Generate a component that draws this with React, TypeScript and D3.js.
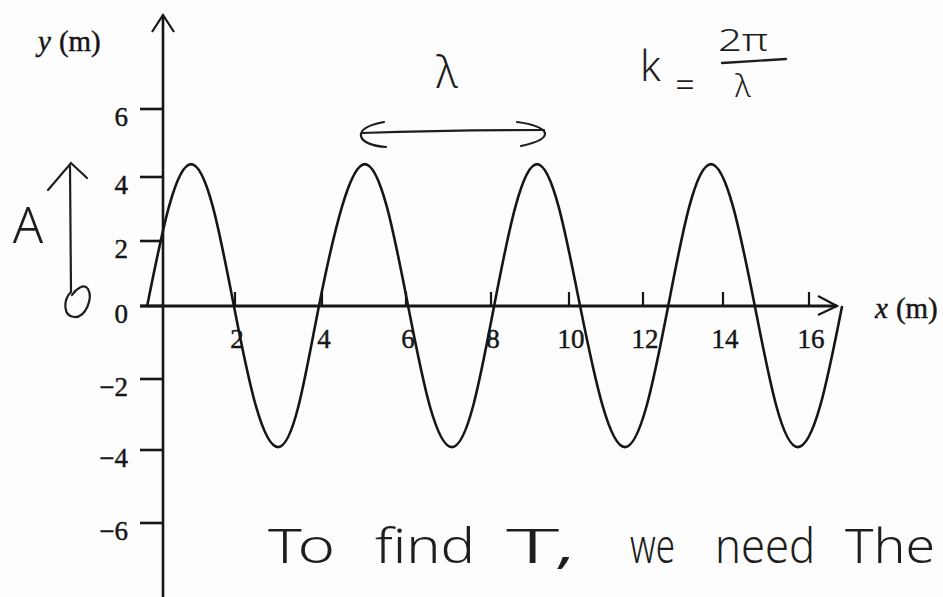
import React, { useEffect } from "react";
import * as d3 from "d3";

// Axis ticks
const yTicks = [6, 4, 2, 0, -2, -4, -6];
const xTicks = [2, 4, 6, 8, 10, 12, 14, 16];

// Transverse displacement y (m) sampled along the string x (m)
const waveX = [
  -0.44, 0.17, 0.78, 1.38, 1.97, 2.48, 2.99, 3.46, 3.93, 4.48, 5.02, 5.54,
  6.05, 6.56, 7.08, 7.58, 8.08, 8.63, 9.18, 9.73, 10.3, 10.91, 11.51, 12.09,
  12.63, 13.16, 13.7, 14.23, 14.74, 15.24, 15.74, 16.26, 16.77,
];
const waveY = [
  0, 3.09, 4.38, 3.09, 0, -2.76, -3.92, -2.76,
  0, 3.09, 4.38, 3.09, 0, -2.76, -3.92, -2.76,
  0, 3.09, 4.38, 3.09, 0, -2.76, -3.92, -2.76,
  0, 3.09, 4.38, 3.09, 0, -2.76, -3.92, -2.76,
  0,
];

// Handwritten note under the graph
const noteWords = ["To", "find", "T,", "we", "need", "The"];

const W = 943;
const H = 597;
const INK = "#161616";
const PEN = "#1e1e1e";
const SERIF = "'Liberation Serif', 'Times New Roman', serif";
const HAND = "'Noto Sans', 'Open Sans', sans-serif";

// The printed grid is slightly uneven, so both scales are piecewise linear
const xStops = [0, ...xTicks];
const xPix = [163, 235, 322, 406, 491, 569, 643, 723, 809];
const yStops = [-6, -4, -2, 0, 2, 4, 6];
const yPix = [523, 450, 379, 306, 241, 177, 109];

const notePos = [
  { x: 268, w: 67 },
  { x: 375, w: 100 },
  { x: 506, w: 70 },
  { x: 630, w: 45 },
  { x: 715, w: 100 },
  { x: 845, w: 90 },
];

export default function App() {
  useEffect(() => {
    document.body.style.margin = "0";
  }, []);

  const x = d3.scaleLinear().domain(xStops).range(xPix);
  const y = d3.scaleLinear().domain(yStops).range(yPix);

  const x0 = x(0);
  const y0 = y(0);
  const yTickLen = 23;
  const xTickLen = 14;
  const xAxisEnd = 837;
  const yAxisTop = 15;

  const idx = d3.range(waveX.length);
  const wavePath = d3
    .line<number>()
    .x((i) => x(waveX[i]))
    .y((i) => y(waveY[i]))
    .curve(d3.curveNatural)(idx) as string;

  const printText = {
    fontFamily: SERIF,
    fontSize: 27,
    fill: INK,
    stroke: INK,
    strokeWidth: 0.45,
  };

  const hand = (size: number) => ({
    fontFamily: HAND,
    fontSize: size,
    fontWeight: 300,
    fill: PEN,
  });

  return (
    <svg
      width={W}
      height={H}
      viewBox={`0 0 ${W} ${H}`}
      style={{ position: "absolute", left: 0, top: 0, background: "#fff" }}
    >
      <rect width={W} height={H} fill="#fdfdfd" />

      {/* y axis */}
      <line x1={x0} y1={yAxisTop} x2={x0} y2={H} stroke={INK} strokeWidth={2.6} />
      <path
        d={`M${x0 - 11},${yAxisTop + 17} L${x0},${yAxisTop} L${x0 + 11},${yAxisTop + 17}`}
        fill="none"
        stroke={INK}
        strokeWidth={2.2}
      />
      {yTicks.map((t) => (
        <g key={`yt${t}`}>
          <line
            x1={x0 - yTickLen}
            x2={x0}
            y1={y(t)}
            y2={y(t)}
            stroke={INK}
            strokeWidth={2.6}
          />
          <text x={x0 - 35} y={y(t) + 17} textAnchor="end" {...printText}>
            {t < 0 ? `\u2212${Math.abs(t)}` : t}
          </text>
        </g>
      ))}
      <text x={38} y={51} {...printText} fontSize={29}>
        <tspan fontStyle="italic">y</tspan>
        <tspan dx={8}>(m)</tspan>
      </text>

      {/* x axis */}
      <line
        x1={x0 - yTickLen}
        y1={y0}
        x2={xAxisEnd}
        y2={y0}
        stroke={INK}
        strokeWidth={2.8}
      />
      <path
        d={`M${xAxisEnd - 19},${y0 - 10} L${xAxisEnd},${y0} L${xAxisEnd - 19},${y0 + 9}`}
        fill="none"
        stroke={INK}
        strokeWidth={2.2}
      />
      {xTicks.map((t) => (
        <g key={`xt${t}`}>
          <line
            x1={x(t)}
            x2={x(t)}
            y1={y0}
            y2={y0 - xTickLen}
            stroke={INK}
            strokeWidth={2.2}
          />
          <text x={x(t) + 2} y={y0 + 42} textAnchor="middle" {...printText}>
            {t}
          </text>
        </g>
      ))}
      <text x={875} y={318} {...printText} fontSize={29}>
        <tspan fontStyle="italic">x</tspan>
        <tspan dx={8}>(m)</tspan>
      </text>

      {/* the wave */}
      <path d={wavePath} fill="none" stroke={INK} strokeWidth={2.6} />

      {/* pen notes: wavelength */}
      <text x={447} y={88} textAnchor="middle" {...hand(44)}>
        λ
      </text>
      <path
        d="M362,133 C420,131 490,130 544,130"
        fill="none"
        stroke={PEN}
        strokeWidth={2.2}
        strokeLinecap="round"
      />
      <path
        d="M384,122 C368,125 360,130 361,136 C362,142 372,146 386,147"
        fill="none"
        stroke={PEN}
        strokeWidth={2.2}
        strokeLinecap="round"
      />
      <path
        d="M517,122 C532,124 543,128 545,133 C546,139 535,143 521,146"
        fill="none"
        stroke={PEN}
        strokeWidth={2.2}
        strokeLinecap="round"
      />

      {/* pen notes: wave number */}
      <text x={640} y={81} {...hand(42)}>
        k
      </text>
      <text x={685} y={97} textAnchor="middle" {...hand(34)}>
        =
      </text>
      <text x={743} y={51} textAnchor="middle" {...hand(32)} textLength={50} lengthAdjust="spacingAndGlyphs">
        2π
      </text>
      <path d="M722,63 L786,59" fill="none" stroke={PEN} strokeWidth={2.4} strokeLinecap="round" />
      <text x={743} y={97} textAnchor="middle" {...hand(32)}>
        λ
      </text>

      {/* pen notes: amplitude */}
      <text x={28} y={243} textAnchor="middle" {...hand(50)}>
        A
      </text>
      <path d="M70,166 L71,292" fill="none" stroke={PEN} strokeWidth={2.2} strokeLinecap="round" />
      <path d="M48,190 L71,163 L87,178" fill="none" stroke={PEN} strokeWidth={2.2} strokeLinecap="round" />
      <path
        d="M71,292 C63,300 63,316 74,317 C86,318 93,298 88,289 C84,283 76,289 72,295"
        fill="none"
        stroke={PEN}
        strokeWidth={2.2}
        strokeLinecap="round"
      />

      {/* pen notes: next step */}
      {noteWords.map((w, i) => (
        <text
          key={w}
          x={notePos[i].x}
          y={563}
          {...hand(48)}
          textLength={notePos[i].w}
          lengthAdjust="spacingAndGlyphs"
        >
          {w}
        </text>
      ))}
    </svg>
  );
}
